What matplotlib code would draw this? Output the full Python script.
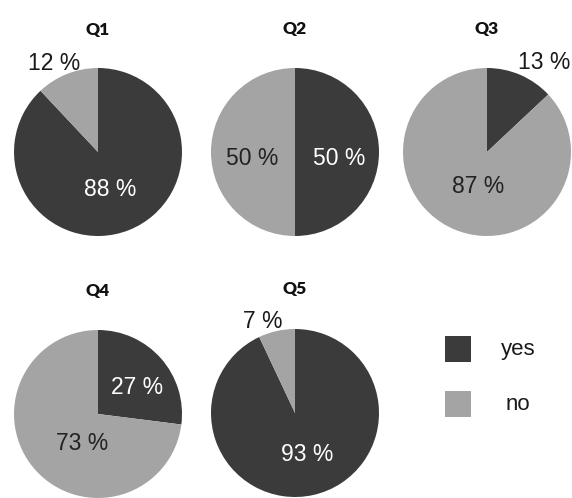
import numpy as np
import matplotlib
matplotlib.use("Agg")
import matplotlib.pyplot as plt
from matplotlib.patches import Rectangle

# ---- data ----
questions = ["Q1", "Q2", "Q3", "Q4", "Q5"]
categories = ["yes", "no"]
yes_pct = [88, 50, 13, 27, 93]
no_pct = [12, 50, 87, 73, 7]

# ---- style ----
DARK = "#3b3b3b"
LIGHT = "#a4a4a4"
colors = [DARK, LIGHT]
W, H = 572, 498
R = 84
centers = [(98, 152), (295, 152), (487, 152), (98, 414), (295, 413)]
title_y = [30, 29, 29, 291, 289]
# label placement per pie: (distance as fraction of radius, angle offset deg) for yes, no
label_place = [
    [(0.47, -4.1), (1.18, 4.7)],
    [(0.53, -8.0), (0.52, 8.0)],
    [(1.26, -9.2), (0.42, 9.4)],
    [(0.56, -7.7), (0.40, 20.6)],
    [(0.51, 3.7), (1.15, 6.8)],
]

plt.rcParams["font.family"] = ["Liberation Sans", "DejaVu Sans"]
fig = plt.figure(figsize=(W / 100, H / 100), dpi=100)
fig.patch.set_facecolor("white")

for i, q in enumerate(questions):
    cx, cy = centers[i]
    ax = fig.add_axes([(cx - R) / W, (H - cy - R) / H, 2 * R / W, 2 * R / H])
    vals = [yes_pct[i], no_pct[i]]
    wedges, _ = ax.pie(vals, colors=colors, startangle=90, counterclock=False,
                       radius=1, wedgeprops=dict(linewidth=0))
    ax.set_xlim(-1, 1)
    ax.set_ylim(-1, 1)
    ax.set_aspect("auto")
    ax.axis("off")
    for j, w in enumerate(wedges):
        mid = np.deg2rad((w.theta1 + w.theta2) / 2 + label_place[i][j][1])
        d = label_place[i][j][0]
        if d > 1:
            tc = "#1a1a1a"
        else:
            tc = "white" if colors[j] == DARK else "#222222"
        ax.text(d * np.cos(mid), d * np.sin(mid), f"{vals[j]} %", ha="center",
                va="center", fontsize=16.5, color=tc, clip_on=False)
    fig.text(cx / W, 1 - title_y[i] / H, q, ha="center", va="center",
             fontsize=12.5, fontweight="heavy", family="Lato", color="#111111")

# legend
leg_y = [349, 404]
for j, cat in enumerate(categories):
    sq = 26
    fig.patches.append(Rectangle(((458 - sq / 2) / W, (H - leg_y[j] - sq / 2) / H),
                                 sq / W, sq / H, transform=fig.transFigure,
                                 facecolor=colors[j], edgecolor="none"))
    fig.text(518 / W, 1 - leg_y[j] / H, cat, ha="center", va="center",
             fontsize=16, color="#1a1a1a")

fig.savefig("out.png", dpi=100, facecolor="white")
